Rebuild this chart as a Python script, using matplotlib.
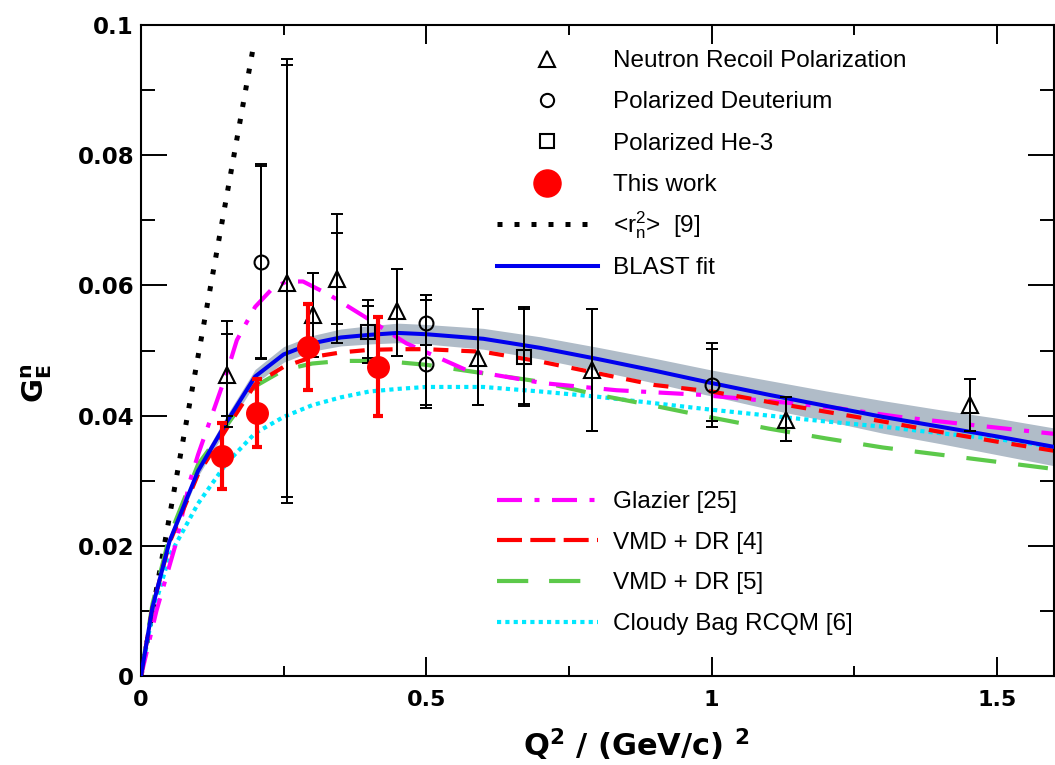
import matplotlib
matplotlib.use("Agg")
import matplotlib.pyplot as plt
from matplotlib.lines import Line2D
from matplotlib.ticker import MultipleLocator, FormatStrFormatter

plt.rcParams["mathtext.fontset"] = "custom"
plt.rcParams["mathtext.rm"] = "Liberation Sans"
plt.rcParams["mathtext.it"] = "Liberation Sans:italic"
plt.rcParams["mathtext.bf"] = "DejaVu Sans:bold"

# Neutron recoil polarization (open triangles), inner / outer error bars
nrp_q2 = [0.150, 0.255, 0.301, 0.343, 0.448, 0.590, 0.790, 1.131, 1.452]
nrp_ge = [0.0462, 0.0604, 0.0555, 0.0610, 0.0560, 0.0489, 0.0470, 0.0393, 0.0416]
nrp_in_lo = [0.0062, 0.0329, 0.0065, 0.0070, 0.0068, 0.0073, 0.0093, 0.0032, 0.0040]
nrp_in_hi = [0.0063, 0.0335, 0.0064, 0.0070, 0.0065, 0.0074, 0.0093, 0.0035, 0.0040]
nrp_out_lo = [0.0079, 0.0339, 0.0065, 0.0098, 0.0068, 0.0073, 0.0093, 0.0032, 0.0040]
nrp_out_hi = [0.0084, 0.0344, 0.0064, 0.0100, 0.0065, 0.0074, 0.0093, 0.0035, 0.0040]

# Polarized deuterium (open circles)
pd_q2 = [0.211, 0.500, 0.500, 1.001]
pd_ge = [0.0636, 0.0543, 0.0480, 0.0447]
pd_in_lo = [0.0147, 0.0035, 0.0064, 0.0055]
pd_in_hi = [0.0148, 0.0042, 0.0098, 0.0056]
pd_out_lo = [0.0149, 0.0035, 0.0069, 0.0065]
pd_out_hi = [0.0151, 0.0042, 0.0098, 0.0064]

# Polarized He-3 (open squares)
he_q2 = [0.398, 0.671]
he_ge = [0.0529, 0.0490]
he_in_lo = [0.0040, 0.0072]
he_in_hi = [0.0039, 0.0073]
he_out_lo = [0.0048, 0.0076]
he_out_hi = [0.0048, 0.0077]

# This work (BLAST)
tw_q2 = [0.142, 0.204, 0.292, 0.416]
tw_ge = [0.0338, 0.0404, 0.0506, 0.0475]
tw_err_lo = [0.0051, 0.0052, 0.0067, 0.0075]
tw_err_hi = [0.0051, 0.0052, 0.0065, 0.0076]

# model curves read on a common grid
curve_q2 = [0, 0.02, 0.05, 0.1, 0.15, 0.2, 0.25, 0.3, 0.35, 0.4, 0.45, 0.5,
            0.6, 0.7, 0.8, 0.9, 1.0, 1.1, 1.2, 1.3, 1.4, 1.5, 1.6]
blast_fit = [0, 0.0105, 0.0207, 0.0315, 0.0390, 0.0460, 0.0494, 0.0511, 0.0520,
             0.0524, 0.0527, 0.0525, 0.0518, 0.0504, 0.0487, 0.0469, 0.0450,
             0.0432, 0.0415, 0.0398, 0.0383, 0.0368, 0.0352]
blast_band = [0, 0.0003, 0.0005, 0.0008, 0.0010, 0.0011, 0.0012, 0.0012, 0.0013,
              0.0014, 0.0015, 0.0015, 0.0016, 0.0017, 0.0018, 0.0019, 0.0020,
              0.0022, 0.0023, 0.0025, 0.0026, 0.0028, 0.0029]
vmd_dr4 = [0, 0.0105, 0.0205, 0.0310, 0.0380, 0.0448, 0.0475, 0.0490, 0.0497,
           0.0501, 0.0502, 0.0502, 0.0498, 0.0483, 0.0465, 0.0447, 0.0437,
           0.0421, 0.0406, 0.0391, 0.0375, 0.0360, 0.0346]
vmd_dr5 = [0, 0.0110, 0.0215, 0.0325, 0.0385, 0.0445, 0.0470, 0.0480, 0.0484,
           0.0484, 0.0482, 0.0478, 0.0465, 0.0452, 0.0432, 0.0415, 0.0397,
           0.0380, 0.0365, 0.0351, 0.0340, 0.0329, 0.0318]
cloudy_bag = [0, 0.0095, 0.0185, 0.0265, 0.0327, 0.0373, 0.0398, 0.0416, 0.0428,
              0.0437, 0.0441, 0.0444, 0.0444, 0.0437, 0.0429, 0.0419, 0.0409,
              0.0400, 0.0391, 0.0383, 0.0373, 0.0364, 0.0352]

glazier_q2 = [0, 0.027, 0.06, 0.086, 0.1, 0.124, 0.15, 0.168, 0.2, 0.23, 0.255,
              0.284, 0.331, 0.401, 0.465, 0.57, 0.704, 0.833, 0.979, 1.142,
              1.224, 1.329, 1.452, 1.6]
glazier = [0, 0.0100, 0.0200, 0.0300, 0.0340, 0.0400, 0.0465, 0.0516, 0.0567,
           0.0595, 0.0606, 0.0606, 0.0585, 0.0547, 0.0511, 0.0470, 0.0450,
           0.0439, 0.0432, 0.0419, 0.0411, 0.0398, 0.0386, 0.0372]

radius_q2 = [0, 0.198]
radius = [0, 0.0972]

fig = plt.figure(figsize=(10.55, 7.65), dpi=100)
ax = fig.add_axes([141 / 1055, 1 - 676 / 765, 913 / 1055, 651 / 765])

band_lo = [b - w for b, w in zip(blast_fit, blast_band)]
band_hi = [b + w for b, w in zip(blast_fit, blast_band)]
ax.fill_between(curve_q2, band_lo, band_hi, color="#b0bcc8", lw=0, zorder=1)

ax.plot(radius_q2, radius, color="k", lw=3.6, ls=(0, (1, 2.4)), zorder=2)
ax.plot(curve_q2, cloudy_bag, color="#00e8ff", lw=3, ls=(0, (1, 1)), zorder=2)
ax.plot(curve_q2, vmd_dr5, color="#5cc94a", lw=3, ls=(0, (7.2, 5.3)), zorder=2)
ax.plot(glazier_q2, glazier, color="#ff00ff", lw=3, ls=(0, (6, 3, 1.2, 3)), zorder=2)
ax.plot(curve_q2, vmd_dr4, color="#ff0000", lw=3, ls=(0, (3.6, 3.1)), zorder=2)
ax.plot(curve_q2, blast_fit, color="#0000ee", lw=2.9, zorder=3)


def data_points(q2, ge, in_lo, in_hi, out_lo, out_hi, marker, ms):
    ax.errorbar(q2, ge, yerr=[out_lo, out_hi], fmt="none", ecolor="k",
                elinewidth=1.4, capsize=4.5, capthick=1.4, zorder=4)
    ax.errorbar(q2, ge, yerr=[in_lo, in_hi], fmt="none", ecolor="k",
                elinewidth=1.4, capsize=4.5, capthick=1.4, zorder=4)
    ax.plot(q2, ge, ls="none", marker=marker, ms=ms, mfc="none", mec="k",
            mew=1.5, zorder=5)


data_points(nrp_q2, nrp_ge, nrp_in_lo, nrp_in_hi, nrp_out_lo, nrp_out_hi, "^", 12)
data_points(pd_q2, pd_ge, pd_in_lo, pd_in_hi, pd_out_lo, pd_out_hi, "o", 10)
data_points(he_q2, he_ge, he_in_lo, he_in_hi, he_out_lo, he_out_hi, "s", 10)

ax.errorbar(tw_q2, tw_ge, yerr=[tw_err_lo, tw_err_hi], fmt="o", color="#ff0000",
            ms=15.5, elinewidth=3, capsize=3.6, capthick=3, zorder=6)

ax.set_xlim(0, 1.6)
ax.set_ylim(0, 0.1)
ax.xaxis.set_major_locator(MultipleLocator(0.5))
ax.xaxis.set_minor_locator(MultipleLocator(0.25))
ax.yaxis.set_major_locator(MultipleLocator(0.02))
ax.yaxis.set_minor_locator(MultipleLocator(0.01))
ax.xaxis.set_major_formatter(FormatStrFormatter("%g"))
ax.yaxis.set_major_formatter(FormatStrFormatter("%g"))
ax.tick_params(which="both", direction="in", top=True, right=True, width=1.4)
ax.tick_params(axis="y", which="major", length=19, pad=5, labelsize=16.5)
ax.tick_params(axis="y", which="minor", length=10)
ax.tick_params(axis="x", which="major", length=14, pad=10, labelsize=16)
ax.tick_params(axis="x", which="minor", length=7)
for lab in ax.get_xticklabels() + ax.get_yticklabels():
    lab.set_fontweight("bold")
for sp in ax.spines.values():
    sp.set_linewidth(1.5)

fig.text(636 / 1055, 1 - 745 / 765, r"Q$^{\mathbf{2}}$ / (GeV/c) $^{\mathbf{2}}$",
         ha="center", va="center", fontsize=22, fontweight="bold")
fig.text(37 / 1055, 1 - 383 / 765, r"$\mathbf{G_E^n}$", ha="center", va="center",
         rotation=90, fontsize=21)

leg_font = {"family": "Liberation Sans", "size": 17.5}
top_handles = [
    Line2D([], [], ls="none", marker="^", ms=11, mfc="none", mec="k", mew=1.5),
    Line2D([], [], ls="none", marker="o", ms=9.5, mfc="none", mec="k", mew=1.5),
    Line2D([], [], ls="none", marker="s", ms=9.5, mfc="none", mec="k", mew=1.5),
    Line2D([], [], ls="none", marker="o", ms=19.5, color="#ff0000"),
    Line2D([], [], color="k", lw=3.6, ls=(0, (1, 2.4))),
    Line2D([], [], color="#0000ee", lw=2.9),
]
# the <r_n^2> label is written separately so its row keeps the plain height
top_labels = ["Neutron Recoil Polarization", "Polarized Deuterium",
              "Polarized He-3", "This work", " ", "BLAST fit"]
leg1 = fig.legend(top_handles, top_labels, loc="upper left",
                  bbox_to_anchor=(497 / 1055, 1 - 50 / 765), frameon=False,
                  prop=leg_font, handlelength=4.15, handletextpad=0.62,
                  labelspacing=0.8, borderpad=0, borderaxespad=0, numpoints=1)

bottom_handles = [
    Line2D([], [], color="#ff00ff", lw=3, ls=(0, (6, 3, 1.2, 3))),
    Line2D([], [], color="#ff0000", lw=3, ls=(0, (6, 2))),
    Line2D([], [], color="#5cc94a", lw=3, ls=(0, (7.5, 5))),
    Line2D([], [], color="#00e8ff", lw=3, ls=(0, (1, 1))),
]
bottom_labels = ["Glazier [25]", "VMD + DR [4]", "VMD + DR [5]", "Cloudy Bag RCQM [6]"]
fig.legend(bottom_handles, bottom_labels, loc="upper left",
           bbox_to_anchor=(497 / 1055, 1 - 491 / 765), frameon=False,
           prop=leg_font, handlelength=4.15, handletextpad=0.62,
           labelspacing=0.77, borderpad=0, borderaxespad=0)

# put the radius label on the baseline of the placeholder row
fig.canvas.draw()
ref_text = leg1.get_texts()[3]
ph_text = leg1.get_texts()[4]
ref_bb = ref_text.get_window_extent()
ph_bb = ph_text.get_window_extent()
inv = fig.transFigure.inverted()
x0, y0 = inv.transform((ph_bb.x0, ph_bb.y0 + 0.21 * 17.5 * 100 / 72))
fig.text(x0, y0, r"<r$_\mathrm{n}^\mathrm{2}$>  [9]", ha="left", va="baseline",
         fontfamily="Liberation Sans", fontsize=17.5)

fig.savefig("out.png", dpi=100)
